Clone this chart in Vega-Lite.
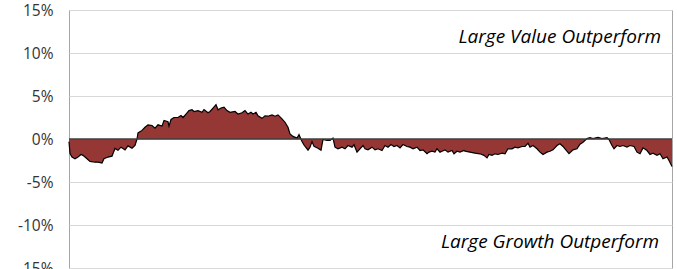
{
  "$schema": "https://vega.github.io/schema/vega-lite/v6.json",
  "width": 603,
  "height": 258,
  "autosize": "none",
  "padding": {"left": 69, "top": 10, "right": 5, "bottom": 1},
  "background": "white",
  "config": {
    "view": {"stroke": "#a6a6a6", "strokeWidth": 1},
    "axis": {"labelFont": "Open Sans", "labelFontSize": 15.5, "labelColor": "#333333", "domain": false, "ticks": false, "title": null}
  },
  "datasets": {
    "series": [
      {"t":0,"v":-0.3},{"t":1,"v":-1.7},{"t":3,"v":-2.1},{"t":6,"v":-2.3},{"t":9,"v":-2.1},{"t":12,"v":-1.8},{"t":14,"v":-1.9},{"t":18,"v":-2.3},{"t":21,"v":-2.6},{"t":26,"v":-2.7},{"t":29,"v":-2.7},{"t":33,"v":-2.8},{"t":35,"v":-2.3},{"t":39,"v":-2.1},{"t":43,"v":-2.0},{"t":46,"v":-1.1},{"t":49,"v":-1.3},{"t":52,"v":-0.95},{"t":54,"v":-1.1},{"t":56,"v":-1.26},{"t":59,"v":-0.8},{"t":63,"v":-1.07},{"t":66,"v":-0.76},{"t":68,"v":0.0},{"t":69,"v":0.7},{"t":73,"v":1.0},{"t":76,"v":1.37},{"t":79,"v":1.65},{"t":83,"v":1.57},{"t":86,"v":1.26},{"t":89,"v":1.65},{"t":93,"v":1.5},{"t":95,"v":2.15},{"t":99,"v":2.0},{"t":100,"v":1.5},{"t":102,"v":2.27},{"t":105,"v":2.5},{"t":109,"v":2.5},{"t":112,"v":2.73},{"t":114,"v":2.5},{"t":117,"v":2.9},{"t":120,"v":3.3},{"t":123,"v":3.4},{"t":125,"v":3.2},{"t":129,"v":3.3},{"t":133,"v":3.1},{"t":135,"v":3.43},{"t":139,"v":3.05},{"t":141,"v":3.2},{"t":144,"v":3.6},{"t":147,"v":4.0},{"t":149,"v":3.4},{"t":152,"v":3.6},{"t":155,"v":3.7},{"t":158,"v":3.3},{"t":161,"v":3.1},{"t":166,"v":3.2},{"t":169,"v":2.9},{"t":173,"v":3.05},{"t":176,"v":3.3},{"t":179,"v":2.9},{"t":182,"v":3.1},{"t":184,"v":2.9},{"t":187,"v":3.1},{"t":189,"v":2.7},{"t":193,"v":2.4},{"t":196,"v":2.7},{"t":199,"v":2.65},{"t":203,"v":2.8},{"t":206,"v":2.65},{"t":209,"v":2.8},{"t":213,"v":2.35},{"t":216,"v":1.95},{"t":219,"v":1.37},{"t":221,"v":0.6},{"t":224,"v":0.3},{"t":228,"v":0.1},{"t":230,"v":0.5},{"t":233,"v":-0.3},{"t":235,"v":-0.7},{"t":239,"v":-1.3},{"t":241,"v":-0.95},{"t":243,"v":-0.3},{"t":245,"v":-0.84},{"t":249,"v":-1.07},{"t":252,"v":-1.3},{"t":254,"v":-0.06},{"t":258,"v":-0.17},{"t":261,"v":-0.17},{"t":264,"v":0.1},{"t":266,"v":-0.95},{"t":269,"v":-1.14},{"t":273,"v":-0.95},{"t":276,"v":-1.14},{"t":279,"v":-0.76},{"t":283,"v":-0.95},{"t":285,"v":-0.67},{"t":288,"v":-1.53},{"t":291,"v":-1.14},{"t":294,"v":-0.76},{"t":296,"v":-1.14},{"t":299,"v":-1.26},{"t":303,"v":-0.95},{"t":306,"v":-1.26},{"t":309,"v":-1.14},{"t":313,"v":-1.34},{"t":316,"v":-0.76},{"t":319,"v":-0.95},{"t":322,"v":-0.64},{"t":325,"v":-0.87},{"t":328,"v":-0.76},{"t":331,"v":-1.03},{"t":334,"v":-0.64},{"t":338,"v":-0.87},{"t":341,"v":-0.95},{"t":344,"v":-1.14},{"t":348,"v":-0.95},{"t":351,"v":-1.34},{"t":354,"v":-1.26},{"t":358,"v":-1.72},{"t":360,"v":-1.53},{"t":363,"v":-1.42},{"t":366,"v":-1.53},{"t":368,"v":-1.14},{"t":371,"v":-1.53},{"t":373,"v":-1.42},{"t":376,"v":-1.26},{"t":379,"v":-1.53},{"t":383,"v":-1.34},{"t":385,"v":-1.72},{"t":388,"v":-1.42},{"t":391,"v":-1.53},{"t":395,"v":-1.34},{"t":396,"v":-1.42},{"t":401,"v":-1.53},{"t":406,"v":-1.65},{"t":411,"v":-1.72},{"t":415,"v":-1.9},{"t":418,"v":-2.2},{"t":420,"v":-1.8},{"t":423,"v":-1.9},{"t":426,"v":-1.72},{"t":429,"v":-1.8},{"t":433,"v":-1.65},{"t":436,"v":-1.72},{"t":439,"v":-1.14},{"t":443,"v":-1.14},{"t":446,"v":-0.95},{"t":449,"v":-1.03},{"t":453,"v":-0.87},{"t":456,"v":-0.87},{"t":459,"v":-0.5},{"t":461,"v":-0.95},{"t":464,"v":-0.76},{"t":468,"v":-1.14},{"t":471,"v":-1.53},{"t":474,"v":-1.8},{"t":478,"v":-1.53},{"t":481,"v":-1.42},{"t":484,"v":-1.26},{"t":488,"v":-0.76},{"t":491,"v":-0.56},{"t":494,"v":-0.87},{"t":496,"v":-1.14},{"t":500,"v":-1.7},{"t":504,"v":-1.26},{"t":508,"v":-1.14},{"t":511,"v":-0.6},{"t":514,"v":-0.37},{"t":518,"v":0.05},{"t":521,"v":0.15},{"t":524,"v":0.05},{"t":529,"v":0.2},{"t":533,"v":0.05},{"t":538,"v":0.15},{"t":540,"v":-0.05},{"t":543,"v":-0.76},{"t":545,"v":-1.14},{"t":548,"v":-0.76},{"t":551,"v":-0.87},{"t":554,"v":-0.76},{"t":558,"v":-0.95},{"t":561,"v":-0.76},{"t":565,"v":-0.87},{"t":568,"v":-1.53},{"t":571,"v":-1.72},{"t":574,"v":-1.03},{"t":578,"v":-1.34},{"t":581,"v":-1.8},{"t":584,"v":-1.65},{"t":588,"v":-1.9},{"t":591,"v":-1.72},{"t":594,"v":-2.3},{"t":598,"v":-2.1},{"t":600,"v":-2.5},{"t":603,"v":-3.2}
    ],
    "notes": [
      {"label": "Large Value Outperform", "t": 592, "v": 11.9},
      {"label": "Large Growth Outperform", "t": 590, "v": -12.0}
    ]
  },
  "layer": [
    {
      "data": {"name": "series"},
      "mark": {"type": "area", "color": "#953735", "opacity": 1, "fillOpacity": 1, "line": {"color": "#000000", "strokeWidth": 1.2}, "interpolate": "linear"},
      "encoding": {
        "x": {"field": "t", "type": "quantitative", "scale": {"domain": [0, 603], "nice": false}, "axis": null},
        "y": {"field": "v", "type": "quantitative", "scale": {"domain": [-15, 15], "nice": false, "zero": true},
          "axis": {"values": [-15, -10, -5, 0, 5, 10, 15], "labelExpr": "datum.value + '%'", "grid": true, "gridColor": "#d9d9d9", "gridWidth": 1, "labelPadding": 16}}
      }
    },
    {
      "data": {"values": [{"z": 0}]},
      "mark": {"type": "rule", "color": "#404040", "strokeWidth": 1.5},
      "encoding": {"y": {"field": "z", "type": "quantitative"}}
    },
    {
      "data": {"name": "notes"},
      "mark": {"type": "text", "align": "right", "baseline": "middle", "font": "Open Sans", "fontStyle": "italic", "fontSize": 19, "color": "#000000"},
      "encoding": {
        "x": {"field": "t", "type": "quantitative"},
        "y": {"field": "v", "type": "quantitative"},
        "text": {"field": "label"}
      }
    }
  ]
}
